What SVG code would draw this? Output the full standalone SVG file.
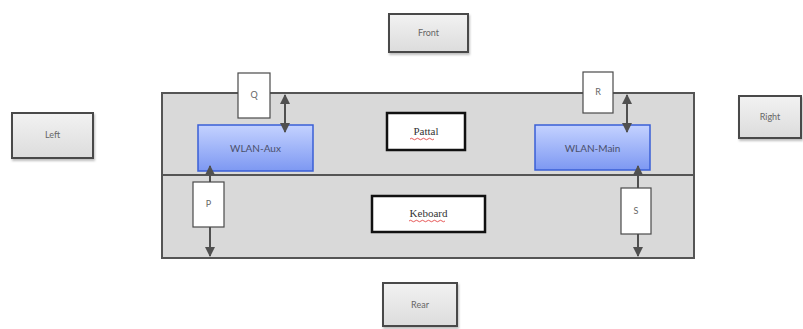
<svg xmlns="http://www.w3.org/2000/svg" width="803" height="329" viewBox="0 0 803 329">
<defs>
<linearGradient id="gBox" x1="0" y1="0" x2="0" y2="1"><stop offset="0" stop-color="#f2f2f2"/><stop offset="1" stop-color="#dcdcdc"/></linearGradient>
<linearGradient id="gBlue" x1="0" y1="0" x2="0" y2="1"><stop offset="0" stop-color="#c4d2ff"/><stop offset="1" stop-color="#7d98f2"/></linearGradient>
<marker id="ah" viewBox="0 0 10 10" refX="9" refY="5" markerWidth="5" markerHeight="5" orient="auto-start-reverse"><path d="M0,0 L10,5 L0,10 z" fill="#505050"/></marker>
<filter id="sh" x="-10%" y="-10%" width="130%" height="130%"><feDropShadow dx="1" dy="2" stdDeviation="1.2" flood-color="#000" flood-opacity="0.25"/></filter>
</defs>
<style>
.dir{fill:url(#gBox);stroke:#4a4a4a;stroke-width:2;filter:url(#sh)}
.lbl{font-family:Lato,"Open Sans",sans-serif;font-size:9px;fill:#666;text-anchor:middle}
.wl{fill:url(#gBlue);stroke:#3a5fd6;stroke-width:1.5}
.wlt{font-family:Lato,"Open Sans",sans-serif;font-size:10px;fill:#4a4f6a;text-anchor:middle}
.tag{fill:#fff;stroke:#4a4a4a;stroke-width:1.2}
.sec{fill:#fff;stroke:#111;stroke-width:2.5}
.sect{font-family:"Liberation Serif",serif;font-size:11px;fill:#333;text-anchor:middle}
.conn{stroke:#505050;stroke-width:2;fill:none;marker-start:url(#ah);marker-end:url(#ah)}
.sq{stroke:#e03030;stroke-width:0.8;fill:none}
</style>
<rect width="803" height="329" fill="#fff"/>
<g id="body">
<rect x="162" y="93" width="532" height="165" fill="#d9d9d9" stroke="#555" stroke-width="2"/>
<line x1="162" y1="175" x2="694" y2="175" stroke="#555" stroke-width="2"/>
</g>
<g id="front"><rect class="dir" x="389" y="14" width="79" height="38"/><text class="lbl" x="428.5" y="36">Front</text></g>
<g id="left"><rect class="dir" x="12" y="113" width="81" height="45"/><text class="lbl" x="52.5" y="138">Left</text></g>
<g id="right"><rect class="dir" x="739" y="96" width="62" height="42"/><text class="lbl" x="770" y="120">Right</text></g>
<g id="rear"><rect class="dir" x="383" y="283" width="74" height="43"/><text class="lbl" x="420" y="308">Rear</text></g>
<g id="pattal"><rect class="sec" x="387" y="113" width="78" height="37"/><text class="sect" x="426" y="135">Pattal</text><path class="sq" d="M410,139 q1.5,-1.5 3,0 t3,0 t3,0 t3,0 t3,0 t3,0 t3,0 t3,0"/></g>
<g id="keboard"><rect class="sec" x="372" y="196" width="113" height="36"/><text class="sect" x="428.5" y="217">Keboard</text><path class="sq" d="M409,221 q1.5,-1.5 3,0 t3,0 t3,0 t3,0 t3,0 t3,0 t3,0 t3,0 t3,0 t3,0 t3,0 t3,0"/></g>
<g id="wlan-aux"><rect class="wl" x="198" y="125" width="115" height="46"/><text class="wlt" x="255.5" y="152">WLAN-Aux</text></g>
<g id="wlan-main"><rect class="wl" x="535" y="125" width="115" height="45"/><text class="wlt" x="592.5" y="152">WLAN-Main</text></g>
<g id="connectors">
<line class="conn" x1="285" y1="95" x2="285" y2="132"/>
<line class="conn" x1="627" y1="95" x2="627" y2="132"/>
<line class="conn" x1="210" y1="166" x2="210" y2="256"/>
<line class="conn" x1="638" y1="166" x2="638" y2="256"/>
</g>
<g id="q"><rect class="tag" x="238" y="73" width="32" height="45"/><text class="lbl" x="254" y="98">Q</text></g>
<g id="r"><rect class="tag" x="583" y="72" width="30" height="41"/><text class="lbl" x="598" y="95">R</text></g>
<g id="p"><rect class="tag" x="193" y="182" width="31" height="45"/><text class="lbl" x="208.5" y="207">P</text></g>
<g id="s"><rect class="tag" x="621" y="188" width="30" height="46"/><text class="lbl" x="636" y="214">S</text></g>
</svg>
